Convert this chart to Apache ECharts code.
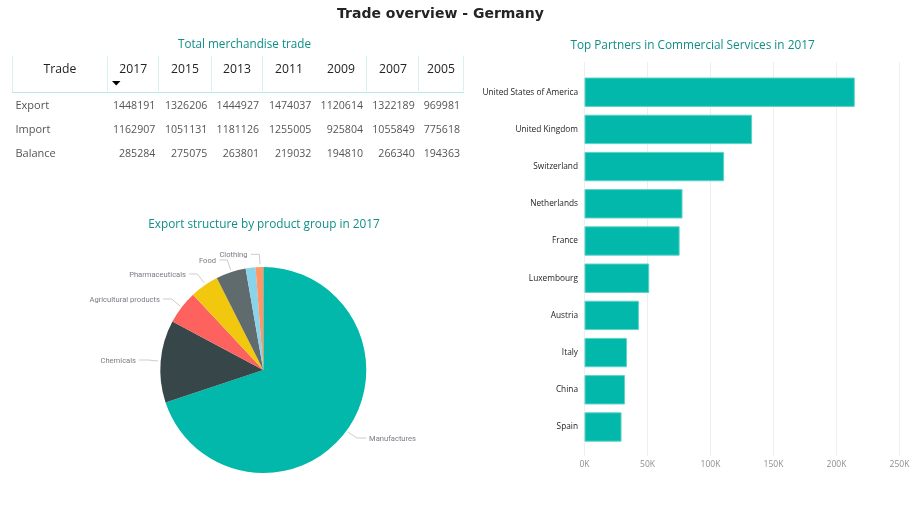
<!DOCTYPE html>
<html><head><meta charset="utf-8">
<style>html,body{margin:0;padding:0;background:#fff}#c{width:918px;height:509px}</style>
<script src="https://cdn.jsdelivr.net/npm/echarts@6/dist/echarts.min.js"></script>
</head><body><div id="c"></div>
<script>
const years = ['2017','2015','2013','2011','2009','2007','2005'];
const tradeRows = ['Export','Import','Balance'];
const exportVals = [1448191,1326206,1444927,1474037,1120614,1322189,969981];
const importVals = [1162907,1051131,1181126,1255005,925804,1055849,775618];
const balanceVals = [285284,275075,263801,219032,194810,266340,194363];
const partners = ['United States of America','United Kingdom','Switzerland','Netherlands','France','Luxembourg','Austria','Italy','China','Spain'];
const partnerVals = [214500,133000,110800,77800,75500,51400,43200,33700,32200,29400];
const products = ['Manufactures','Chemicals','Agricultural products','Pharmaceuticals','Food','','Clothing'];
const productShares = [69.9,12.9,5.25,4.5,4.7,1.55,1.2];
const pieColors = ['#01B8AA','#374649','#FD625E','#F2C80F','#5F6B6D','#8AD4EB','#FE9666'];

const F = '"Open Sans","Noto Sans",sans-serif';
const TEAL = '#0f8f88';
const colRight = [155.3,207.3,259,311.3,363,414.7,460];
const colCenter = [133.3,185,237,289,341,393,441];
const colSep = [107.5,158.5,211.5,262.5,366.5,418.5,463.5];
const rowY = [105.5,129.5,153.5];
const rows = [exportVals,importVals,balanceVals];
const pieLabelLayout = [
  {x:369,y:438.8,align:'left',pts:[[348,432],[357,438],[366.5,438]]},
  {x:136,y:360.8,align:'right',pts:[[158,361],[148,360],[139,360]]},
  {x:160,y:299.8,align:'right',pts:[[180,306],[171.7,299],[163,299]]},
  {x:186,y:274.8,align:'right',pts:[[204,282.7],[197.3,274],[189.3,274]]},
  {x:216,y:260.8,align:'right',pts:[[230.7,270],[227.3,260],[219.3,260]]},
  null,
  {x:247.5,y:255,align:'right',pts:[[260,264.3],[259.3,254.3],[250.7,254.3]]}
];

const g = [];
const txt = (x,y,t,align,size,fill)=>g.push({type:'text',x,y,style:{text:t,font:size+'px '+F,fill:fill||'#444',align,verticalAlign:'middle'}});
const ln = (x1,y1,x2,y2,c,w)=>g.push({type:'line',shape:{x1,y1,x2,y2},style:{stroke:c,lineWidth:w}});
ln(12.5,56,12.5,92,'#D6F2EF',1);
colSep.forEach(x=>ln(x,56,x,91,'#D6F2EF',1));
ln(12,92.5,464,92.5,'#B8EAE5',1);
txt(60,70,'Trade','center',12.2,'#222');
years.forEach((y,i)=>txt(colCenter[i],70,y,'center',12.2,'#222'));
tradeRows.forEach((r,j)=>{
  txt(15.5,rowY[j],r,'left',11,'#555');
  rows[j].forEach((v,i)=>txt(colRight[i],rowY[j],String(v),'right',10.6,'#555'));
});
g.push({type:'polygon',shape:{points:[[112,81],[120.5,81],[116.2,85.5]]},style:{fill:'#000'}});

const tl = (text,x,y,size,color,weight,family)=>({text,left:x,top:y,textAlign:'center',textVerticalAlign:'middle',textStyle:{fontSize:size,color,fontWeight:weight||'normal',fontFamily:family||F}});

const chart = echarts.init(document.getElementById('c'));
chart.setOption({
  animation:false,
  backgroundColor:'#fff',
  title:[
    tl('Trade overview - Germany',435.5,9,14,'#252423','bold','"DejaVu Sans"'),
    tl('Total merchandise trade',239.5,40,11.7,TEAL),
    tl('Export structure by product group in 2017',259,219.5,11.8,TEAL),
    tl('Top Partners in Commercial Services in 2017',687.5,40.5,11.8,TEAL)
  ],
  grid:[
    {left:584.5,width:315,top:62,height:394,containLabel:false},
    {left:584.5,width:315,top:73.6,height:372,containLabel:false}
  ],
  xAxis:[
    {gridIndex:0,type:'value',min:0,max:250000,interval:50000,
     axisLine:{show:false},axisTick:{show:false},
     splitLine:{show:true,lineStyle:{color:'#EEEEEE',width:1}},
     axisLabel:{fontSize:8.5,color:'#8a8f96',fontFamily:F,margin:4,formatter:v=>(v/1000)+'K'}},
    {gridIndex:1,type:'value',min:0,max:250000,show:false}
  ],
  yAxis:[
    {gridIndex:0,type:'value',show:false,min:0,max:1},
    {gridIndex:1,type:'category',inverse:true,data:partners,
     axisLine:{show:false},axisTick:{show:false},splitLine:{show:false},
     axisLabel:{fontSize:8.3,color:'#222',fontFamily:F,margin:6.5}}
  ],
  series:[
    {type:'bar',xAxisIndex:1,yAxisIndex:1,data:partnerVals,barWidth:'79%',
     itemStyle:{color:'#01B8AA',borderColor:'#5FD2C8',borderWidth:1}},
    {type:'pie',center:[263.3,370],radius:[0,103],startAngle:90,clockwise:true,
     data:products.map((name,i)=>({name,value:productShares[i],
        itemStyle:{color:pieColors[i]},
        label:{show:name!==''},labelLine:{show:name!==''}})),
     label:{fontSize:7.6,color:'#7b7b85',fontFamily:'Roboto'},
     labelLine:{length:5,length2:12,lineStyle:{color:'#cccccc',width:1}},
     minShowLabelAngle:0,avoidLabelOverlap:false,
     labelLayout:p=>{const l=pieLabelLayout[p.dataIndex]; if(!l) return {};
       return {x:l.x,y:l.y,align:l.align,verticalAlign:'middle',labelLinePoints:l.pts};},
     emphasis:{disabled:true}}
  ],
  graphic:g
});
</script></body></html>
